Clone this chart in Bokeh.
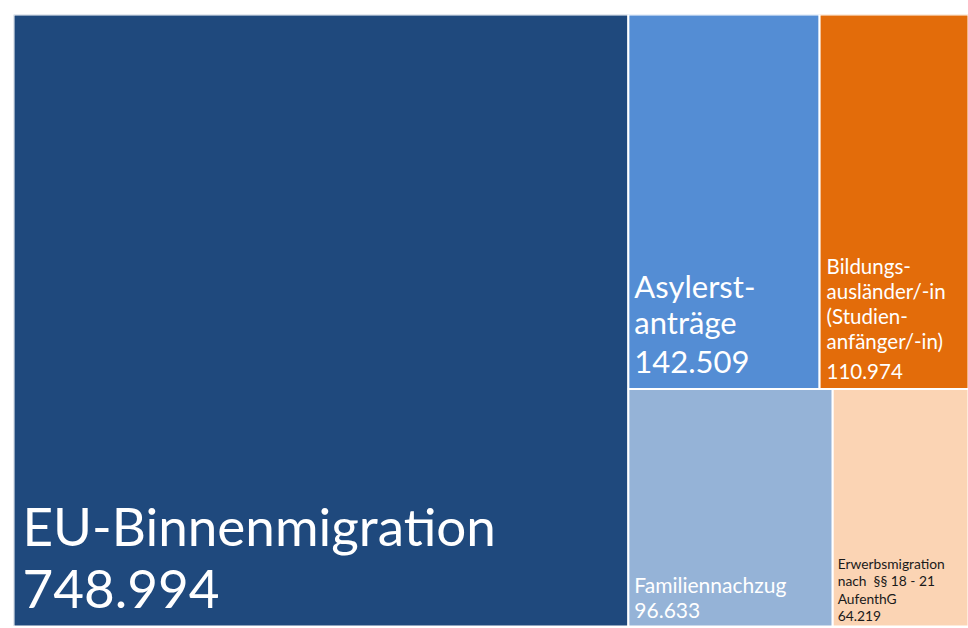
from bokeh.plotting import figure
from bokeh.models import ColumnDataSource, Range1d
from bokeh.embed import file_html
from bokeh.resources import INLINE
from bokeh.core.properties import value

# ---- data ----
categories = ["EU-Binnenmigration", "Asylerstanträge",
              "Bildungsausländer/-in (Studienanfänger/-in)",
              "Familiennachzug", "Erwerbsmigration nach §§ 18 - 21 AufenthG"]
values = [748994, 142509, 110974, 96633, 64219]
label_lines = [["EU-Binnenmigration"],
               ["Asylerst-", "anträge"],
               ["Bildungs-", "ausländer/-in", "(Studien-", "anfänger/-in)"],
               ["Familiennachzug"],
               ["Erwerbsmigration", "nach\u00a0 §§ 18 - 21", "AufenthG"]]
colors = ["#1F497D", "#548DD4", "#E36C0A", "#95B3D7", "#FBD4B4"]
# grouping of the treemap: first group is a column, the rest are rows
groups = [[0], [1, 2], [3, 4]]

# ---- styling ----
font_px = [53, 31, 20.5, 21, 13.8]
line_gap = [63, 36, 25, 26, 17.7]     # gap between label lines
number_gap = [63, 40, 30, 26, 17.7]   # gap between last label line and the number
bottom_pad = [18, 15, 10, 8, 5]
left_pad = [9, 6, 7, 6, 5]
text_colors = ["white", "white", "white", "white", "#1a1a1a"]
BASELINE_COMP = 0.37  # renderer places alphabetic baseline lower by ~this * font size

# ---- layout (slice and dice from values) ----
total = float(sum(values))
left = [0.0] * len(values); right = [0.0] * len(values)
bottom = [0.0] * len(values); top = [0.0] * len(values)
first = groups[0]
w0 = sum(values[i] for i in first) / total
for i in first:
    left[i], right[i], top[i], bottom[i] = 0.0, w0, 1.0, 0.0
rest_total = float(sum(values[i] for g in groups[1:] for i in g))
ytop = 1.0
for g in groups[1:]:
    gsum = float(sum(values[i] for i in g))
    h = gsum / rest_total
    x = w0
    for i in g:
        w = (1 - w0) * values[i] / gsum
        left[i], right[i], top[i], bottom[i] = x, x + w, ytop, ytop - h
        x += w
    ytop -= h

def fmt(v):
    return f"{v:,}".replace(",", ".")

rects = ColumnDataSource(dict(left=left, right=right, top=top, bottom=bottom,
                              color=colors, name=categories))

tx, ty, tt, txo, tyo, tfs, tc = [], [], [], [], [], [], []
for i in range(len(values)):
    lines = label_lines[i] + [fmt(values[i])]
    n = len(lines)
    for k, s in enumerate(lines):
        if k == n - 1:
            up = 0.0
        else:
            up = number_gap[i] + (n - 2 - k) * line_gap[i]
        tx.append(left[i]); ty.append(bottom[i]); tt.append(s)
        txo.append(left_pad[i])
        tyo.append(-(bottom_pad[i] + BASELINE_COMP * font_px[i] + up))
        tfs.append(f"{font_px[i]}px"); tc.append(text_colors[i])
texts = ColumnDataSource(dict(x=tx, y=ty, text=tt, xo=txo, yo=tyo, fs=tfs, c=tc))

p = figure(width=968, height=626, output_backend="svg", toolbar_location=None,
           x_range=Range1d(0, 1), y_range=Range1d(0, 1),
           min_border_left=13, min_border_right=0, min_border_top=14, min_border_bottom=0)
p.axis.visible = False
p.grid.visible = False
p.outline_line_color = None
p.background_fill_color = "white"
p.border_fill_color = "white"

p.quad(left="left", right="right", top="top", bottom="bottom", source=rects,
       fill_color="color", line_color="white", line_width=2)
p.text(x="x", y="y", text="text", source=texts, x_offset="xo", y_offset="yo",
       text_font_size="fs", text_color="c", text_font=value("Lato"),
       text_baseline="alphabetic", text_align="left")

open("out.html", "w").write(file_html(p, INLINE))
